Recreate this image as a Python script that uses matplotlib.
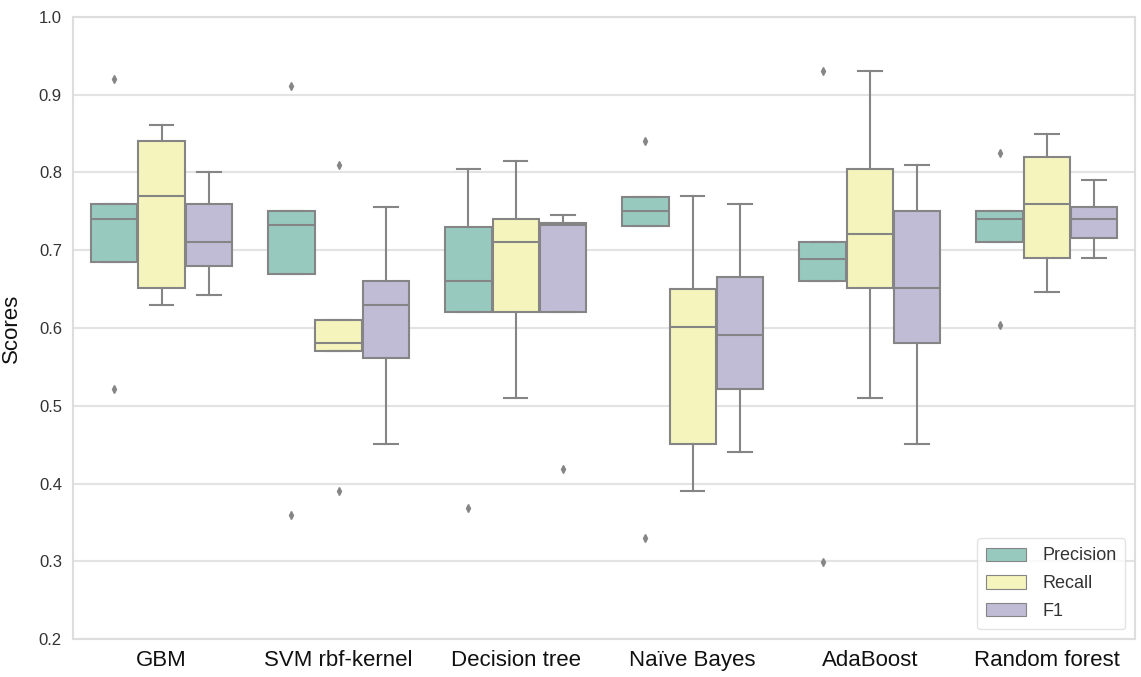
import matplotlib
matplotlib.use("Agg")
import matplotlib.pyplot as plt
from matplotlib.patches import Patch

plt.rcParams['font.family'] = ['Liberation Sans', 'DejaVu Sans']

models = ["GBM", "SVM rbf-kernel", "Decision tree", "Naïve Bayes", "AdaBoost", "Random forest"]
metrics = ["Precision", "Recall", "F1"]
colors = ["#98c9bf", "#f4f4bc", "#c0bcd6"]

# box statistics per metric, one entry per model: (whislo, q1, med, q3, whishi)
precision_stats = [
    (0.685, 0.685, 0.740, 0.760, 0.760),
    (0.670, 0.670, 0.732, 0.750, 0.750),
    (0.621, 0.621, 0.661, 0.730, 0.805),
    (0.731, 0.731, 0.750, 0.769, 0.769),
    (0.660, 0.660, 0.689, 0.710, 0.710),
    (0.711, 0.711, 0.740, 0.750, 0.750),
]
recall_stats = [
    (0.630, 0.651, 0.770, 0.841, 0.861),
    (0.570, 0.570, 0.581, 0.610, 0.610),
    (0.510, 0.621, 0.711, 0.740, 0.815),
    (0.391, 0.451, 0.601, 0.650, 0.770),
    (0.510, 0.651, 0.721, 0.805, 0.931),
    (0.646, 0.690, 0.760, 0.820, 0.850),
]
f1_stats = [
    (0.642, 0.680, 0.711, 0.760, 0.801),
    (0.451, 0.561, 0.630, 0.660, 0.755),
    (0.621, 0.621, 0.732, 0.735, 0.745),
    (0.440, 0.521, 0.591, 0.665, 0.760),
    (0.451, 0.581, 0.651, 0.750, 0.810),
    (0.690, 0.716, 0.740, 0.755, 0.790),
]

# outlying points per model
precision_fliers = [[0.920, 0.521], [0.911, 0.359], [0.369], [0.841, 0.330], [0.931, 0.299], [0.825, 0.604]]
recall_fliers = [[], [0.810, 0.390], [], [], [], []]
f1_fliers = [[], [], [0.419], [], [], []]

all_stats = [precision_stats, recall_stats, f1_stats]
all_fliers = [precision_fliers, recall_fliers, f1_fliers]

fig = plt.figure(figsize=(11.41, 6.77), dpi=100)
ax = fig.add_axes([0.064, 0.056, 0.931, 0.919])

edge = "#858585"
group_width = 0.8
box_w = group_width / len(metrics)

for m, (stats, fliers, col) in enumerate(zip(all_stats, all_fliers, colors)):
    bxp_stats = []
    for (lo, q1, med, q3, hi), fl in zip(stats, fliers):
        bxp_stats.append(dict(whislo=lo, q1=q1, med=med, q3=q3, whishi=hi, fliers=fl))
    positions = [i - group_width / 2 + box_w * (m + 0.5) for i in range(len(models))]
    ax.bxp(bxp_stats, positions=positions, widths=box_w * 0.98, patch_artist=True,
           showfliers=True, manage_ticks=False,
           boxprops=dict(facecolor=col, edgecolor=edge, linewidth=1.5),
           medianprops=dict(color=edge, linewidth=1.5),
           whiskerprops=dict(color=edge, linewidth=1.5),
           capprops=dict(color=edge, linewidth=1.5),
           capwidths=box_w * 0.5,
           flierprops=dict(marker="d", markersize=4, markerfacecolor=edge,
                           markeredgecolor=edge, linestyle="none"))

ax.set_xlim(-0.5, len(models) - 0.5)
ax.set_ylim(0.2, 1.0)
ax.set_xticks(range(len(models)))
ax.set_xticklabels(models, fontsize=16, color="#111111")
yticks = [0.2, 0.3, 0.4, 0.5, 0.6, 0.7, 0.8, 0.9, 1.0]
ax.set_yticks(yticks)
ax.set_yticklabels([f"{v:.1f}" for v in yticks], fontsize=12, color="#333333")
ax.tick_params(length=0, pad=8)
ax.set_ylabel("Scores", fontsize=16, color="#111111", labelpad=12)

ax.yaxis.grid(True, color="#e3e3e3", linewidth=1.5)
ax.set_axisbelow(True)
for s in ax.spines.values():
    s.set_color("#dddddd")
    s.set_linewidth(1.5)

handles = [Patch(facecolor=c, edgecolor=edge, linewidth=0.8, label=l) for c, l in zip(colors, metrics)]
leg = ax.legend(handles=handles, loc="lower right", fontsize=13, frameon=True,
                handlelength=2.2, handleheight=0.75, borderpad=0.5, labelspacing=0.6,
                handletextpad=0.9, borderaxespad=0.55)
leg.get_frame().set_edgecolor("#dddddd")
for t in leg.get_texts():
    t.set_color("#333333")

fig.savefig("out.png", dpi=100)
